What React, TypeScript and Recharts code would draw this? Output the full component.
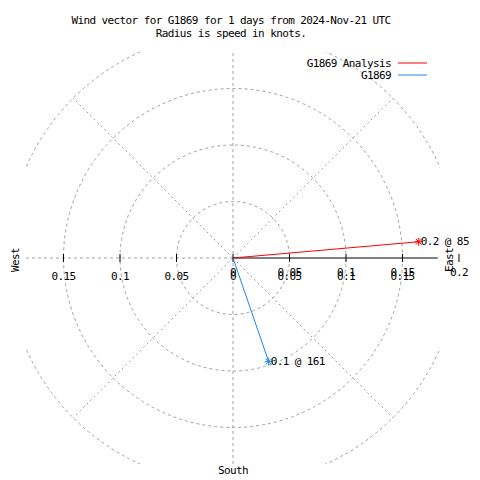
import { ReferenceDot, ReferenceLine, Scatter, ScatterChart, XAxis, YAxis } from "recharts";

// wind vectors: speed in knots, direction in compass degrees
const seriesNames = ["G1869 Analysis", "G1869"];
const seriesColors = ["#ff0000", "#1c86ee"];
const speeds = [0.165, 0.097];
const directions = [85, 161];

const ringSpeeds = [0.05, 0.1, 0.15, 0.2];
const spokeAngles = [45, 135, 225, 315];
const axisTicks = [-0.15, -0.1, -0.05, 0, 0.05, 0.1, 0.15, 0.2];

const titleLines = ["Wind vector for G1869 for 1 days from 2024-Nov-21 UTC", "Radius is speed in knots."];

// layout
const W = 480;
const H = 480;
const CX = 233;
const CY = 258;
const HALF_W = 207;
const HALF_H = 206;
const PX_PER_KNOT = 1130;
const FONT = "'DejaVu Sans Mono', monospace";
const FS = 11;
const LS = -0.6;
const GRID = "#a0a0a0";

const xMax = HALF_W / PX_PER_KNOT;
const yMax = HALF_H / PX_PER_KNOT;

const vectors = speeds.map((s, i) => {
  const rad = (directions[i] * Math.PI) / 180;
  return [
    { x: 0, y: 0, end: false, label: "" },
    { x: s * Math.sin(rad), y: s * Math.cos(rad), end: true, label: `${s.toFixed(1)} @ ${directions[i]}` },
  ];
});

function Star(props: any) {
  const { cx, cy, payload, color } = props;
  if (!payload || !payload.end) return <g />;
  const a = 4;
  return (
    <g>
      <line x1={cx - a} y1={cy} x2={cx + a} y2={cy} stroke={color} />
      <line x1={cx} y1={cy - a} x2={cx} y2={cy + a} stroke={color} />
      <line x1={cx - 3} y1={cy - 3} x2={cx + 3} y2={cy + 3} stroke={color} />
      <line x1={cx - 3} y1={cy + 3} x2={cx + 3} y2={cy - 3} stroke={color} />
    </g>
  );
}

function VectorLabel(props: any) {
  const { cx, cy, label } = props;
  return (
    <text x={cx + 2} y={cy} dominantBaseline="central" fontFamily={FONT} fontSize={FS} letterSpacing={LS} fill="#000">
      {label}
    </text>
  );
}

function AxisTick(props: any) {
  const { cx, cy, value } = props;
  const text = String(Math.abs(value));
  const common = { textAnchor: "middle" as const, dominantBaseline: "central" as const, fontFamily: FONT, fontSize: FS, letterSpacing: LS };
  return (
    <g>
      <line x1={cx} y1={cy - 4} x2={cx} y2={cy + 4} stroke="#000" />
      {value <= 0.15 && (
        <text x={cx} y={cy + 18} {...common}>
          {text}
        </text>
      )}
      {value >= 0 && (
        <text x={cx} y={cy + 14} {...common}>
          {text}
        </text>
      )}
    </g>
  );
}

export default function App() {
  return (
    <div style={{ position: "absolute", left: 0, top: 0, width: W, height: H, background: "#fff" }}>
      <ScatterChart
        width={W}
        height={H}
        margin={{ top: CY - HALF_H, right: W - CX - HALF_W, bottom: H - CY - HALF_H, left: CX - HALF_W }}
      >
        <XAxis type="number" dataKey="x" domain={[-xMax, xMax]} allowDataOverflow hide />
        <YAxis type="number" dataKey="y" domain={[-yMax, yMax]} allowDataOverflow hide />
        {ringSpeeds.map((r) => (
          <ReferenceDot
            key={r}
            x={0}
            y={0}
            r={r * PX_PER_KNOT}
            fill="none"
            stroke={GRID}
            strokeDasharray="3 3"
            ifOverflow="hidden"
          />
        ))}
        {spokeAngles.map((a) => {
          const rad = (a * Math.PI) / 180;
          const r = ringSpeeds[ringSpeeds.length - 1];
          return (
            <ReferenceLine
              key={a}
              segment={[
                { x: 0, y: 0 },
                { x: r * Math.sin(rad), y: r * Math.cos(rad) },
              ]}
              stroke={GRID}
              strokeDasharray="2 3"
              ifOverflow="visible"
            />
          );
        })}
        <ReferenceLine x={0} stroke={GRID} strokeDasharray="3 3" />
        <ReferenceLine
          segment={[
            { x: -xMax, y: 0 },
            { x: 0, y: 0 },
          ]}
          stroke={GRID}
          strokeDasharray="3 3"
        />
        <ReferenceLine
          segment={[
            { x: 0, y: 0 },
            { x: xMax - 0.002, y: 0 },
          ]}
          stroke="#000"
        />
        {axisTicks.map((t) => (
          <ReferenceDot key={t} x={t} y={0} ifOverflow="visible" shape={(p: any) => <AxisTick {...p} value={t} />} />
        ))}
        {vectors.map((v, i) => (
          <Scatter
            key={seriesNames[i]}
            name={seriesNames[i]}
            data={v}
            line={{ stroke: seriesColors[i], strokeWidth: 1 }}
            lineType="joint"
            shape={(p: any) => <Star {...p} color={seriesColors[i]} />}
            isAnimationActive={false}
          />
        ))}
        {vectors.map((v) => (
          <ReferenceDot
            key={v[1].label}
            x={v[1].x}
            y={v[1].y}
            ifOverflow="visible"
            shape={(p: any) => <VectorLabel {...p} label={v[1].label} />}
          />
        ))}
      </ScatterChart>
      <svg
        width={W}
        height={H}
        style={{ position: "absolute", left: 0, top: 0, pointerEvents: "none" }}
        fontFamily={FONT}
        fontSize={FS}
        letterSpacing={LS}
      >
        {titleLines.map((t, i) => (
          <text key={t} x={231} y={20 + i * 13} textAnchor="middle" dominantBaseline="central">
            {t}
          </text>
        ))}
        {seriesNames.map((n, i) => (
          <g key={n}>
            <text x={391} y={63 + i * 12} textAnchor="end" dominantBaseline="central">
              {n}
            </text>
            <line x1={398} y1={63 + i * 12} x2={427} y2={63 + i * 12} stroke={seriesColors[i]} />
          </g>
        ))}
        <text x={15} y={260} textAnchor="middle" dominantBaseline="central" transform="rotate(-90 15 260)">
          West
        </text>
        <text x={449} y={260} textAnchor="middle" dominantBaseline="central" transform="rotate(-90 449 260)">
          East
        </text>
        <text x={233} y={470} textAnchor="middle" dominantBaseline="central">
          South
        </text>
      </svg>
    </div>
  );
}
